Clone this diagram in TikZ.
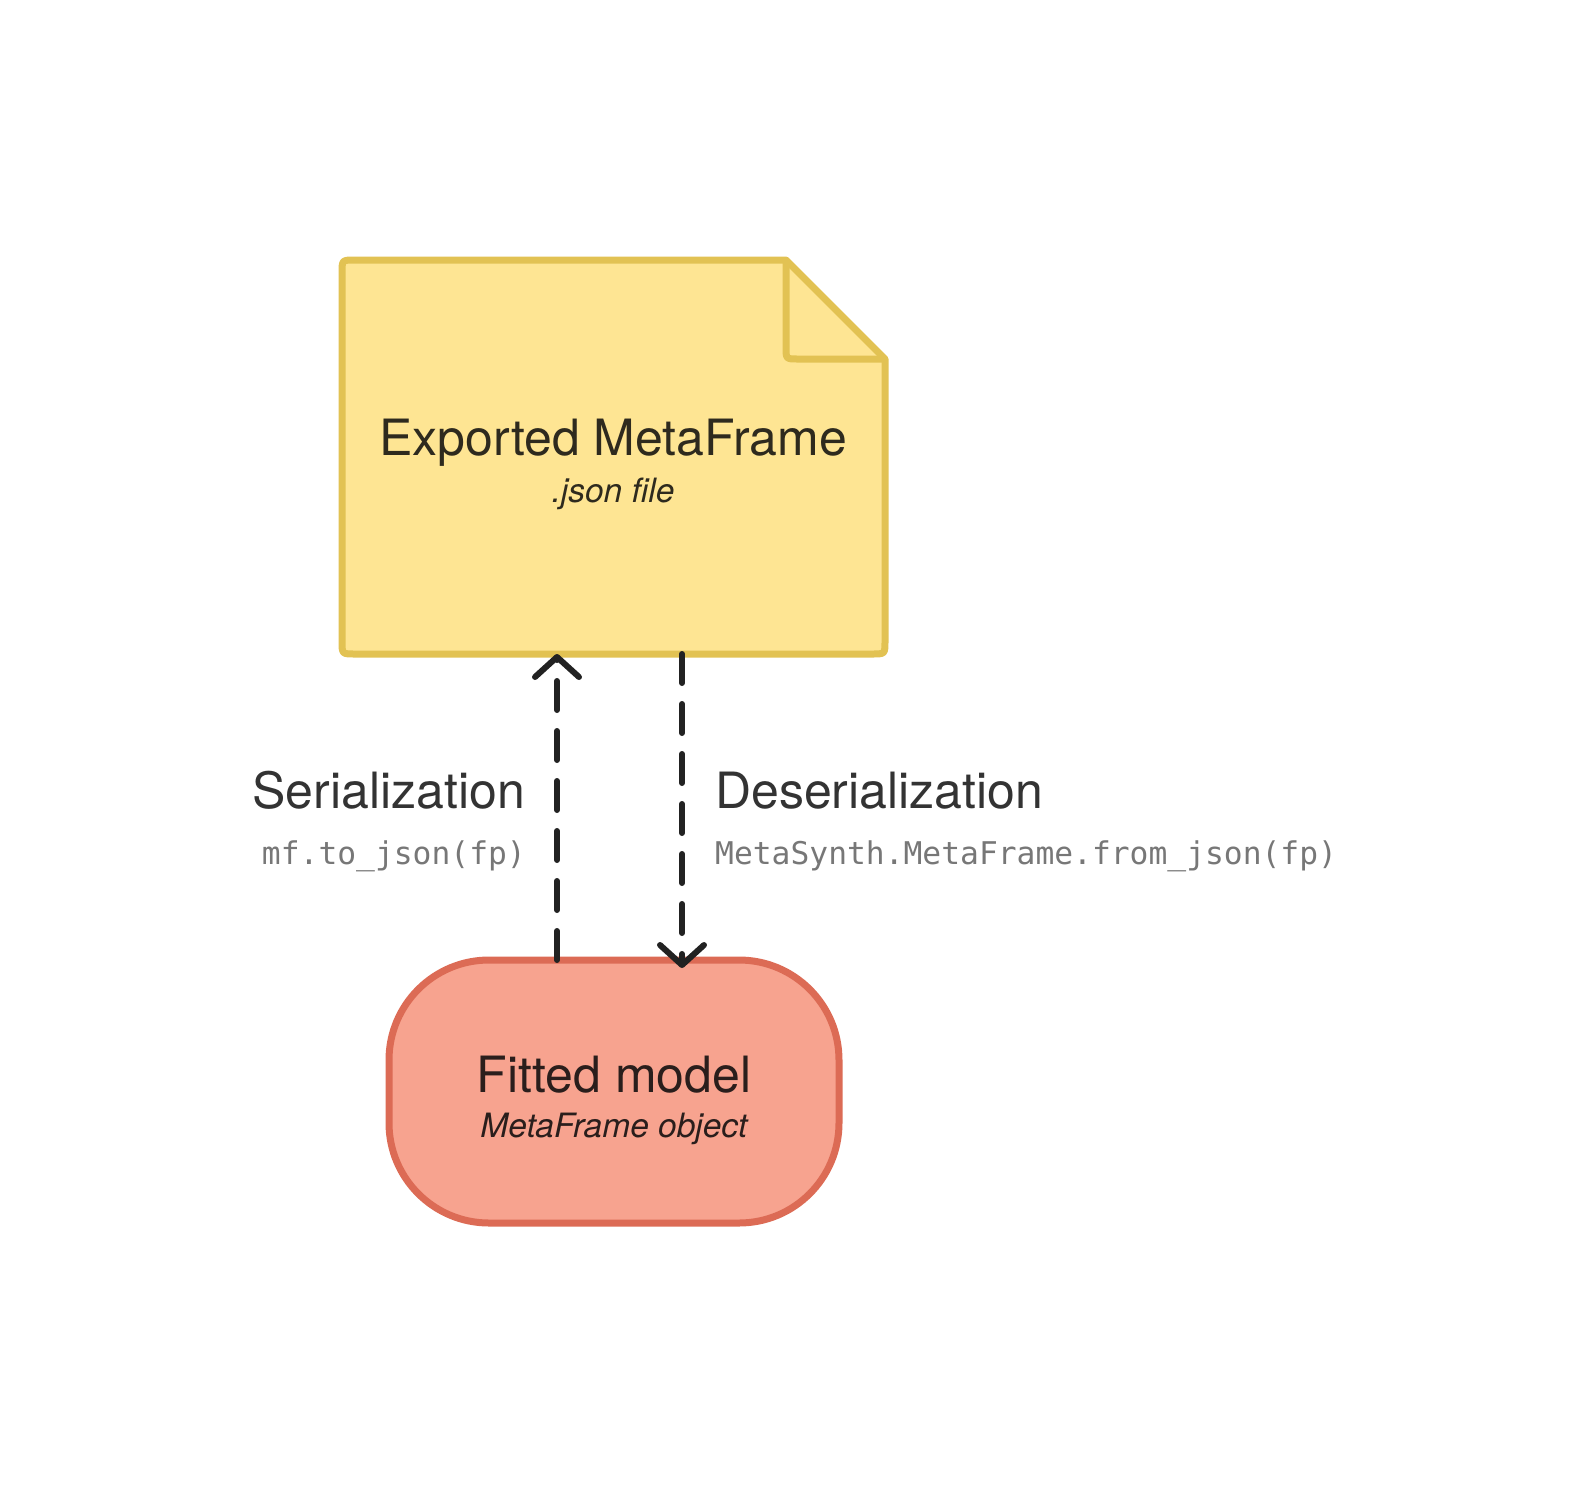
\documentclass[tikz,border=0pt]{standalone}
\usepackage{fontspec}
\setmainfont{TeX Gyre Heros}
\setmonofont{DejaVu Sans Mono}
\usetikzlibrary{arrows.meta,calc}
\definecolor{docfill}{HTML}{FEE593}
\definecolor{docline}{HTML}{E2C253}
\definecolor{fitfill}{HTML}{F7A38F}
\definecolor{fitline}{HTML}{DC6B55}
\definecolor{arrcol}{HTML}{222222}
\definecolor{labcol}{HTML}{333333}
\definecolor{codecol}{HTML}{777777}
\definecolor{doctext}{HTML}{2E2A1E}
\definecolor{fittext}{HTML}{2A1E1C}
\tikzset{
  bigtext/.style={inner sep=0pt, font=\fontsize{50}{56}\selectfont},
  smalltext/.style={inner sep=0pt, font=\fontsize{33.5}{38}\selectfont\itshape},
  codetext/.style={inner sep=0pt, text=codecol, font=\fontsize{31.3}{36}\selectfont\ttfamily},
  arr/.style={draw=arrcol, line width=6pt, line cap=round, dash pattern=on 29pt off 21pt,
    -{Straight Barb[length=20pt, width=44pt, line width=6pt, round]}},
}
\begin{document}
\begin{tikzpicture}[x=1pt,y=-1pt]
\useasboundingbox (0,0) rectangle (1587,1484);
% document shape
\node[inner sep=0pt, outer sep=0pt, minimum width=543pt, minimum height=394pt] (doc) at (613.5,457) {};
\path[fill=docfill, draw=docline, line width=7pt, line join=round]
  (786,260) -- (885,359) -- (885,641) .. controls (885,654) .. (872,654)
  -- (355,654) .. controls (342,654) .. (342,641)
  -- (342,273) .. controls (342,260) .. (355,260) -- cycle;
\draw[docline, line width=7pt, line join=round]
  (786,260) -- (786,347) .. controls (786,359) .. (798,359) -- (885,359);
% fitted model
\node[draw=fitline, fill=fitfill, line width=7pt, rounded corners=100pt,
  minimum width=450pt, minimum height=263pt, inner sep=0pt, outer sep=0pt] (fit) at (614,1091.5) {};
% texts
\node[bigtext, text=doctext, anchor=base] (t1) at (613,455) {Exported MetaFrame};
\node[smalltext, text=doctext, anchor=base] (t2) at (613,502) {.json file};
\node[bigtext, text=fittext, anchor=base] (f1) at (614,1092) {Fitted model};
\node[smalltext, text=fittext, anchor=base] (f2) at (614,1137) {MetaFrame object};
\node[bigtext, text=labcol, anchor=base east] (ser) at (525,808) {Serialization};
\node[codetext, anchor=base east] (serc) at (526,864) {mf.to\_json(fp)};
\node[bigtext, text=labcol, anchor=base west] (des) at (715,808) {Deserialization};
\node[codetext, anchor=base west] (desc) at (715,864) {MetaSynth.MetaFrame.from\_json(fp)};
% connectors
\coordinate (upx) at (557,0);
\coordinate (dnx) at (682,0);
\draw[arr] (upx |- fit.north) -- (upx |- doc.south);
\draw[arr] (dnx |- doc.south) -- ($(dnx |- fit.north)+(0,8)$);
\end{tikzpicture}
\end{document}
